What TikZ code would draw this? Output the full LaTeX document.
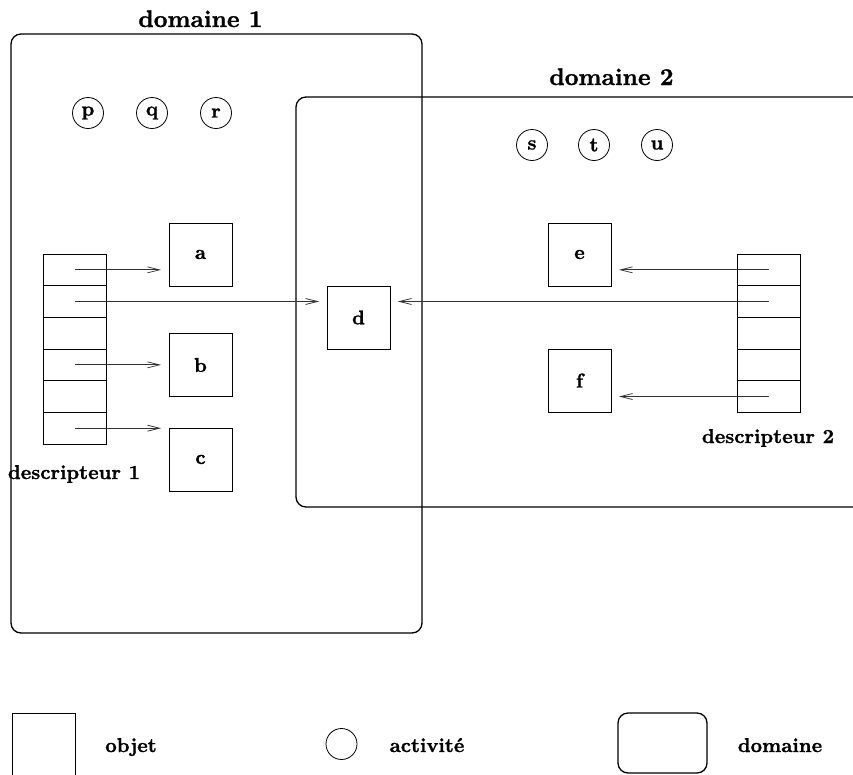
\documentclass[tikz,border=0pt]{standalone}
\usepackage{fontspec}
\usetikzlibrary{arrows.meta}
% heavier bold face for all labels
\newfontfamily\heavy{lmroman10-bold.otf}[FakeBold=1.2]
\begin{document}
\begin{tikzpicture}[x=1pt,y=-1pt,
  domtitle/.style={font=\fontsize{24}{26}\heavy, anchor=base, inner sep=0pt},
  lbl/.style={font=\fontsize{20}{22}\heavy, anchor=base, inner sep=0pt},
  dombox/.style={draw, line width=1.3pt, rounded corners=10pt, inner sep=0pt},
  obj/.style={draw, line width=0.9pt, minimum size=63pt, inner sep=0pt,
    font=\fontsize{20}{22}\heavy},
  act/.style={draw, circle, line width=0.8pt, minimum size=31pt, inner sep=0pt,
    font=\fontsize{20}{22}\heavy},
  slot/.style={draw, line width=0.9pt, minimum width=63pt, minimum height=31.667pt, inner sep=0pt},
  ptr/.style={draw=black!80, line width=0.75pt,
    -{Straight Barb[length=12pt,width=6pt]}, shorten >=7.5pt}
]
\useasboundingbox (0,0) rectangle (853,774);
\clip (0,0) rectangle (853,774);

% the two protection domains
\node[dombox, minimum width=411pt, minimum height=599pt] (dom1) at (216.5,333.5) {};
\node[dombox, minimum width=600pt, minimum height=410pt] (dom2) at (596,302) {};
\node[domtitle] (t1) at (200.5,27) {domaine 1};
\node[domtitle] (t2) at (611.5,85) {domaine 2};

% activities
\node[act] (p) at (88,113) {p};
\node[act] (q) at (152,113) {q};
\node[act] (r) at (216,113) {r};
\node[act] (s) at (532,145) {s};
\node[act] (t) at (594,145) {t};
\node[act] (u) at (657,145) {u};

% objects
\node[obj] (a) at (200.5,254.5) {a};
\node[obj] (b) at (200.5,365) {b};
\node[obj] (c) at (200.5,459.5) {c};
\node[obj] (d) at (358.5,317.5) {d};
\node[obj] (e) at (579.5,254.5) {e};
\node[obj] (f) at (579.5,380.5) {f};

% descriptors
\foreach \k in {1,...,6}
  \node[slot] (da\k) at (74.5,{254+31.667*(\k-0.5)}) {};
\foreach \k in {1,...,5}
  \node[slot] (db\k) at (769,{254+31.667*(\k-0.5)}) {};
\node[lbl] (ld1) at (74,479) {descripteur 1};
\node[lbl] (ld2) at (768,443) {descripteur 2};

% capabilities
\draw[ptr] (da1.center) -- (da1.center -| a.west);
\draw[ptr] (da2.center) -- (da2.center -| d.west);
\draw[ptr] (da4.center) -- (da4.center -| b.west);
\draw[ptr] (da6.center) -- (da6.center -| c.west);
\draw[ptr] (db1.center) -- (db1.center -| e.east);
\draw[ptr] (db2.center) -- (db2.center -| d.east);
\draw[ptr] (db5.center) -- (db5.center -| f.east);

% legend
\node[obj] (legobj) at (43.5,744.5) {};
\node[lbl] (lobj) at (131,752) {objet};
\node[act] (legact) at (341.5,744) {};
\node[lbl] (lact) at (427,752) {activité};
\node[dombox, minimum width=89pt, minimum height=60pt] (legdom) at (662.5,743) {};
\node[lbl] (ldom) at (780,752) {domaine};
\end{tikzpicture}
\end{document}
